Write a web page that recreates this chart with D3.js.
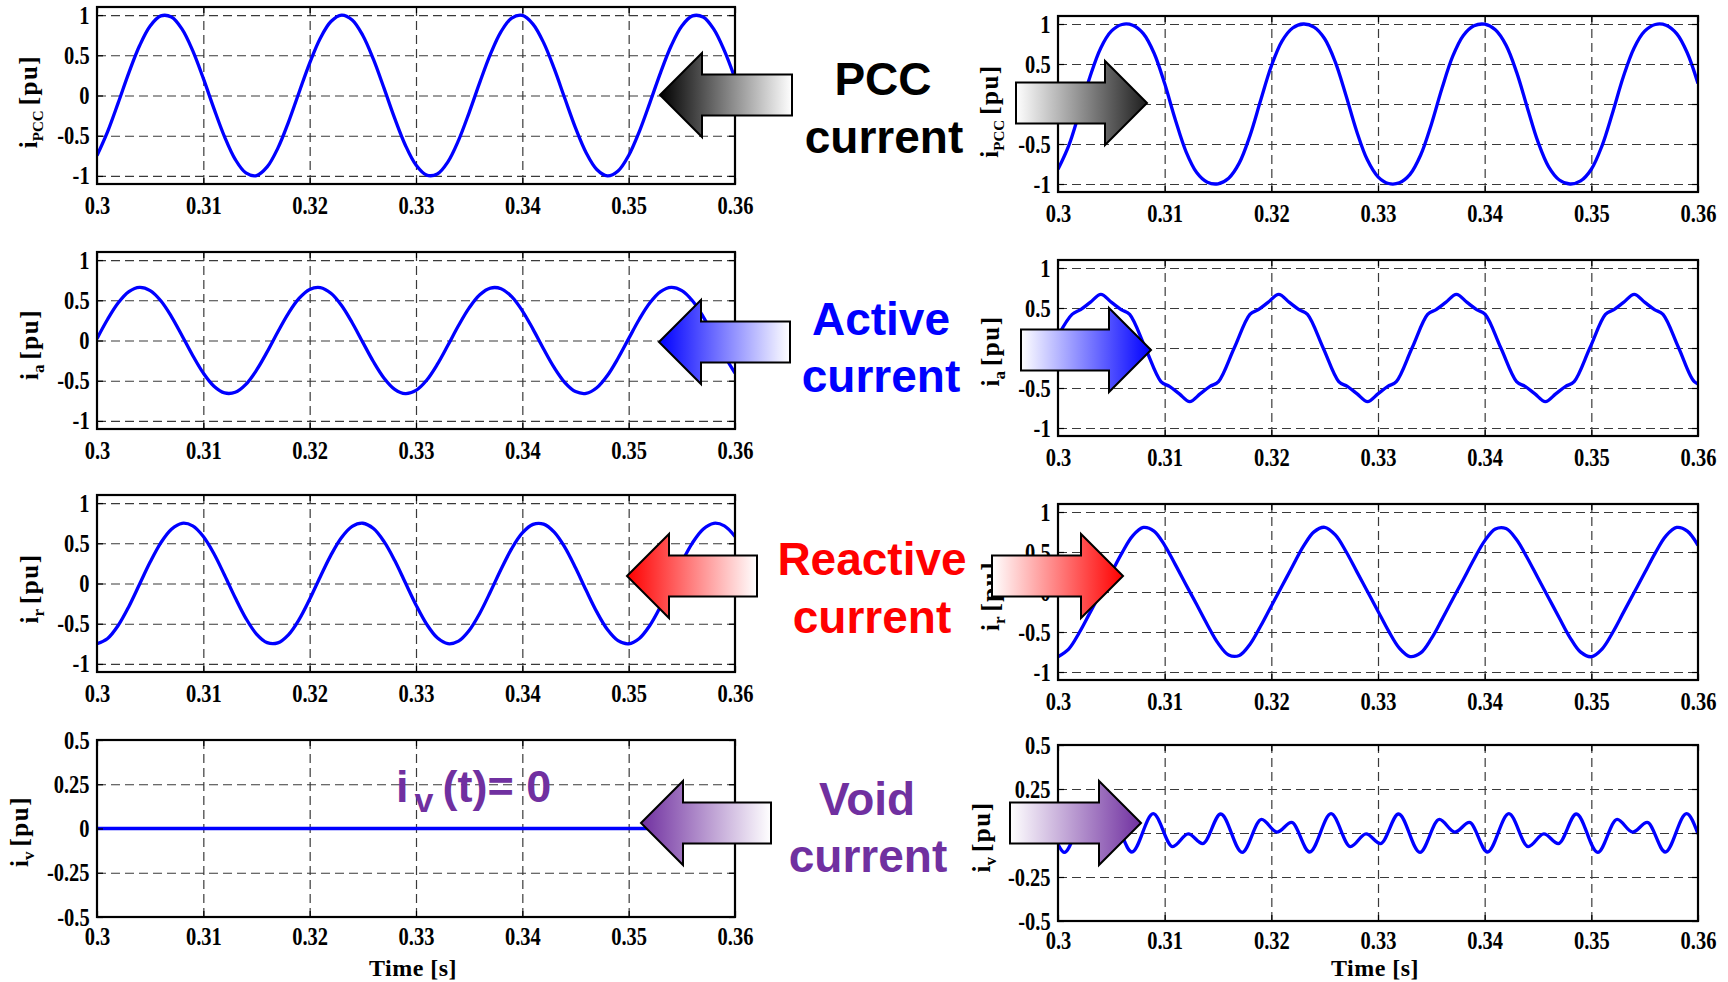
<!DOCTYPE html>
<html>
<head>
<meta charset="utf-8">
<script src="https://cdn.jsdelivr.net/npm/d3@7"></script>
<style>
  body { margin: 0; background: #fff; }
  svg { display: block; }
</style>
</head>
<body>
<svg id="fig" width="1728" height="982"></svg>
<script>
// ---- tick values / labels ----
const xTickValues = [0.30, 0.31, 0.32, 0.33, 0.34, 0.35, 0.36];
const xTickLabels = ["0.3", "0.31", "0.32", "0.33", "0.34", "0.35", "0.36"];
const yTicksPu = [-1, -0.5, 0, 0.5, 1];
const yLabelsPu = ["-1", "-0.5", "0", "0.5", "1"];
const yTicksVoid = [-0.5, -0.25, 0, 0.25, 0.5];
const yLabelsVoid = ["-0.5", "-0.25", "0", "0.25", "0.5"];

// ---- sampled waveforms, 1 ms steps from 0.300 to 0.360 s ----
const tSample = [0.300,0.301,0.302,0.303,0.304,0.305,0.306,0.307,0.308,0.309,0.310,0.311,0.312,0.313,0.314,0.315,0.316,0.317,0.318,0.319,0.320,
  0.321,0.322,0.323,0.324,0.325,0.326,0.327,0.328,0.329,0.330,0.331,0.332,0.333,0.334,0.335,0.336,0.337,0.338,0.339,0.340,
  0.341,0.342,0.343,0.344,0.345,0.346,0.347,0.348,0.349,0.350,0.351,0.352,0.353,0.354,0.355,0.356,0.357,0.358,0.359,0.360];

// left column (ideal decomposition)
const ipccLeft = [-0.746,-0.448,-0.088,0.285,0.618,0.864,0.989,0.975,0.824,0.557,0.212,-0.163,-0.514,-0.794,-0.962,-0.995,-0.888,-0.657,-0.333,0.038,0.403,0.712,0.920,1.000,0.939,
  0.746,0.448,0.088,-0.285,-0.618,-0.864,-0.989,-0.975,-0.824,-0.557,-0.212,0.163,0.514,0.794,0.962,0.995,0.888,0.657,0.333,-0.038,-0.403,-0.712,-0.920,-1.000,-0.939,
  -0.746,-0.448,-0.088,0.285,0.618,0.864,0.989,0.975,0.824,0.557,0.212];
const iaLeft = [0.023,0.264,0.468,0.607,0.660,0.620,0.494,0.298,0.060,-0.186,-0.406,-0.569,-0.652,-0.644,-0.545,-0.369,-0.142,0.106,0.338,0.523,0.635,0.657,0.587,0.435,0.221,
  -0.023,-0.264,-0.468,-0.607,-0.660,-0.620,-0.494,-0.298,-0.060,0.186,0.406,0.569,0.652,0.644,0.545,0.369,0.142,-0.106,-0.338,-0.523,-0.635,-0.657,-0.587,-0.435,-0.221,
  0.023,0.264,0.468,0.607,0.660,0.620,0.494,0.298,0.060,-0.186,-0.406];
const irLeft = [-0.749,-0.683,-0.520,-0.285,-0.009,0.267,0.506,0.675,0.748,0.716,0.584,0.370,0.103,-0.177,-0.433,-0.628,-0.735,-0.738,-0.638,-0.449,-0.196,0.085,0.353,0.572,0.710,
  0.749,0.683,0.520,0.285,0.009,-0.267,-0.506,-0.675,-0.748,-0.716,-0.584,-0.370,-0.103,0.177,0.433,0.628,0.735,0.738,0.638,0.449,0.196,-0.085,-0.353,-0.572,-0.710,
  -0.749,-0.683,-0.520,-0.285,-0.009,0.267,0.506,0.675,0.748,0.716,0.584];
const tVoidLeft = [0.300, 0.360];
const ivLeft = [0, 0];

// right column (distorted case)
const ipccRight = [-0.816,-0.523,-0.106,0.340,0.698,0.910,0.994,0.985,0.880,0.638,0.255,-0.196,-0.594,-0.856,-0.977,-0.997,-0.927,-0.736,-0.395,0.046,0.474,0.786,0.950,1.000,0.962,
  0.816,0.523,0.106,-0.340,-0.698,-0.910,-0.994,-0.985,-0.880,-0.638,-0.255,0.196,0.594,0.856,0.977,0.997,0.927,0.736,0.395,-0.046,-0.474,-0.786,-0.950,-1.000,-0.962,
  -0.816,-0.523,-0.106,0.340,0.698,0.910,0.994,0.985,0.880,0.638,0.255];
const irRight = [-0.809,-0.713,-0.506,-0.258,-0.009,0.240,0.490,0.702,0.807,0.761,0.583,0.342,0.091,-0.157,-0.409,-0.639,-0.788,-0.793,-0.653,-0.425,-0.174,0.074,0.325,0.569,0.752,
  0.809,0.713,0.506,0.258,0.009,-0.240,-0.490,-0.702,-0.807,-0.761,-0.583,-0.342,-0.091,0.157,0.409,0.639,0.788,0.793,0.653,0.425,0.174,-0.074,-0.325,-0.569,-0.752,
  -0.809,-0.713,-0.506,-0.258,-0.009,0.240,0.490,0.702,0.807,0.761,0.583];

// right active current, read at its turning points
const tActiveRight = [0.30000,0.30132,0.30212,0.30302,0.30402,0.30502,0.30592,0.30672,0.30819,0.30965,0.31045,0.31135,0.31235,0.31335,0.31425,0.31505,
  0.31652,0.31799,0.31879,0.31969,0.32069,0.32169,0.32259,0.32339,0.32486,0.32632,0.32712,0.32802,0.32902,0.33002,0.33092,0.33172,
  0.33319,0.33465,0.33545,0.33635,0.33735,0.33835,0.33925,0.34005,0.34152,0.34299,0.34379,0.34469,0.34569,0.34669,0.34759,0.34839,
  0.34986,0.35132,0.35212,0.35302,0.35402,0.35502,0.35592,0.35672,0.35819,0.35965,0.36000];
const iaRight = [0.15,0.42,0.48,0.57,0.67,0.57,0.48,0.42,0,-0.42,-0.48,-0.57,-0.67,-0.57,-0.48,-0.42,
  0,0.42,0.48,0.57,0.67,0.57,0.48,0.42,0,-0.42,-0.48,-0.57,-0.67,-0.57,-0.48,-0.42,
  0,0.42,0.48,0.57,0.67,0.57,0.48,0.42,0,-0.42,-0.48,-0.57,-0.67,-0.57,-0.48,-0.42,
  0,0.42,0.48,0.57,0.67,0.57,0.48,0.42,0,-0.42,-0.45];

// right void current, read at its turning points
const tVoidRight = [0.30000,0.30059,0.30241,0.30387,0.30522,0.30692,0.30893,0.31075,0.31221,0.31356,0.31526,0.31726,0.31908,0.32054,0.32189,0.32359,
  0.32560,0.32742,0.32888,0.33023,0.33193,0.33393,0.33575,0.33721,0.33856,0.34026,0.34227,0.34409,0.34555,0.34690,0.34860,0.35060,
  0.35242,0.35388,0.35523,0.35693,0.35893,0.36000];
const ivRight = [-0.064,-0.11,0.077,0.005,0.06,-0.108,0.11,-0.077,-0.005,-0.06,0.108,-0.11,0.077,0.005,0.06,-0.108,
  0.11,-0.077,-0.005,-0.06,0.108,-0.11,0.077,0.005,0.06,-0.108,0.11,-0.077,-0.005,-0.06,0.108,-0.11,
  0.077,0.005,0.06,-0.108,0.11,-0.005];

const ySubscripts = ["PCC", "a", "r", "v"];

// ---- layout ----
const colLeft = [97, 1058];
const colWidth = [638, 640];
const rowTop = [[7, 252, 495, 740], [16, 260, 504, 745]];
const rowHeight = [177, 176];
const yLabelX = [[37, 38, 38, 28], [998, 999, 999, 990]];
const yLabelShift = [[6, 4, 5, 3], [7, 3, 4, 4]];

const serif = "'Liberation Serif', 'Times New Roman', serif";
const sans = "'Liberation Sans', Arial, sans-serif";

const svg = d3.select("#fig");
const defs = svg.append("defs");

const panels = [
  { col: 0, row: 0, t: tSample, v: ipccLeft, curve: d3.curveCatmullRom },
  { col: 0, row: 1, t: tSample, v: iaLeft, curve: d3.curveCatmullRom },
  { col: 0, row: 2, t: tSample, v: irLeft, curve: d3.curveCatmullRom },
  { col: 0, row: 3, t: tVoidLeft, v: ivLeft, curve: d3.curveLinear },
  { col: 1, row: 0, t: tSample, v: ipccRight, curve: d3.curveCatmullRom },
  { col: 1, row: 1, t: tActiveRight, v: iaRight, curve: d3.curveMonotoneX },
  { col: 1, row: 2, t: tSample, v: irRight, curve: d3.curveCatmullRom },
  { col: 1, row: 3, t: tVoidRight, v: ivRight, curve: d3.curveMonotoneX }
];

panels.forEach((p, i) => {
  const left = colLeft[p.col], width = colWidth[p.col];
  const top = rowTop[p.col][p.row], height = rowHeight[p.col];
  const isVoid = p.row === 3;
  const yDomain = isVoid ? [-0.5, 0.5] : [-1.1, 1.1];
  const yTicks = isVoid ? yTicksVoid : yTicksPu;
  const yLabels = isVoid ? yLabelsVoid : yLabelsPu;

  const x = d3.scaleLinear().domain([0.3, 0.36]).range([left, left + width]);
  const y = d3.scaleLinear().domain(yDomain).range([top + height, top]);
  const g = svg.append("g");

  // dashed grid
  const gx = g.append("g").attr("transform", `translate(0,${top + height})`)
    .call(d3.axisBottom(x).tickValues(xTickValues.slice(1, -1)).tickSize(-height).tickFormat(""));
  const gy = g.append("g").attr("transform", `translate(${left},0)`)
    .call(d3.axisLeft(y).tickValues(yTicks.filter(v => v > yDomain[0] && v < yDomain[1])).tickSize(-width).tickFormat(""));
  [gx, gy].forEach(s => {
    s.select(".domain").remove();
    s.selectAll("line").attr("stroke", "#3a3a3a").attr("stroke-width", 1.2).attr("stroke-dasharray", "9,5");
  });

  // waveform
  defs.append("clipPath").attr("id", "clip" + i)
    .append("rect").attr("x", left).attr("y", top).attr("width", width).attr("height", height);
  g.append("path")
    .datum(d3.zip(p.t, p.v))
    .attr("clip-path", `url(#clip${i})`)
    .attr("fill", "none")
    .attr("stroke", "#0000ff")
    .attr("stroke-width", 3.3)
    .attr("stroke-linejoin", "round")
    .attr("d", d3.line().x(d => x(d[0])).y(d => y(d[1])).curve(p.curve));

  // box
  g.append("rect")
    .attr("x", left).attr("y", top).attr("width", width).attr("height", height)
    .attr("fill", "none").attr("stroke", "#000").attr("stroke-width", 2.2);

  // axes with inward ticks
  const ab = g.append("g").attr("transform", `translate(0,${top + height})`)
    .call(d3.axisBottom(x).tickValues(xTickValues).tickFormat((d, k) => xTickLabels[k])
      .tickSizeInner(-6).tickSizeOuter(0).tickPadding(isVoid ? 10 : 12));
  const al = g.append("g").attr("transform", `translate(${left},0)`)
    .call(d3.axisLeft(y).tickValues(yTicks).tickFormat((d, k) => yLabels[k])
      .tickSizeInner(-6).tickSizeOuter(0).tickPadding(9));
  const at = g.append("g").attr("transform", `translate(0,${top})`)
    .call(d3.axisTop(x).tickValues(xTickValues).tickFormat("").tickSizeInner(-6).tickSizeOuter(0));
  const ar = g.append("g").attr("transform", `translate(${left + width},0)`)
    .call(d3.axisRight(y).tickValues(yTicks).tickFormat("").tickSizeInner(-6).tickSizeOuter(0));
  [ab, al, at, ar].forEach(s => {
    s.select(".domain").remove();
    s.selectAll(".tick line").attr("stroke", "#000").attr("stroke-width", 1.2);
    s.selectAll(".tick text")
      .attr("fill", "#000")
      .attr("transform", "scale(0.82,1)")
      .style("font-family", serif).style("font-weight", "bold").style("font-size", "25px");
  });

  // y label
  const yl = svg.append("text")
    .attr("transform", `translate(${yLabelX[p.col][p.row]},${top + height / 2 + yLabelShift[p.col][p.row]}) rotate(-90)`)
    .attr("text-anchor", "middle")
    .style("font-family", serif).style("font-weight", "bold").style("font-size", "25px");
  yl.append("tspan").text("i");
  yl.append("tspan").attr("dy", 6).style("font-size", p.row === 0 ? "15px" : "17px").text(ySubscripts[p.row]);
  yl.append("tspan").attr("dy", -6).attr("dx", 5).attr("letter-spacing", 1.5).text("[pu]");

  if (isVoid) {
    svg.append("text")
      .attr("x", left + width / 2 - 3).attr("y", 976)
      .attr("text-anchor", "middle")
      .style("font-family", serif).style("font-weight", "bold").style("font-size", "24px")
      .attr("letter-spacing", 0.5)
      .text("Time [s]");
  }
});

// ---- centre annotations ----
const notes = [
  { lines: ["PCC", "current"], x: [883, 884], y: [95, 153], color: "#000000" },
  { lines: ["Active", "current"], x: [881, 881], y: [335, 392], color: "#0000ff" },
  { lines: ["Reactive", "current"], x: [872, 872], y: [575, 633], color: "#ff0000" },
  { lines: ["Void", "current"], x: [867, 868], y: [815, 872], color: "#7030a0" }
];
notes.forEach(n => {
  n.lines.forEach((s, k) => {
    svg.append("text")
      .attr("x", n.x[k]).attr("y", n.y[k])
      .attr("text-anchor", "middle")
      .attr("fill", n.color)
      .style("font-family", sans).style("font-weight", "bold").style("font-size", "46px")
      .text(s);
  });
});

// i_v(t) = 0 inside the ideal void panel
const iv0 = svg.append("text")
  .attr("x", 396).attr("y", 802)
  .attr("fill", "#7030a0")
  .style("font-family", sans).style("font-weight", "bold").style("font-size", "45px");
iv0.append("tspan").text("i");
iv0.append("tspan").attr("dx", 6).attr("dy", 10).style("font-size", "34px").text("v");
iv0.append("tspan").attr("dx", 9).attr("dy", -10).text("(t)= 0");

// ---- block arrows ----
const arrows = [
  { tipX: 660, tailX: 792, y: 95, dir: -1, color: "#000000" },
  { tipX: 659, tailX: 790, y: 342, dir: -1, color: "#0000ff" },
  { tipX: 627, tailX: 757, y: 576, dir: -1, color: "#ff0000" },
  { tipX: 641, tailX: 771, y: 823, dir: -1, color: "#7030a0" },
  { tipX: 1147, tailX: 1016, y: 103, dir: 1, color: "#1e1e1e" },
  { tipX: 1151, tailX: 1021, y: 350, dir: 1, color: "#0000ff" },
  { tipX: 1123, tailX: 992, y: 576, dir: 1, color: "#ff0000" },
  { tipX: 1141, tailX: 1010, y: 823, dir: 1, color: "#7030a0" }
];
const headLen = 42, headHalf = 42, shaftHalf = 20.5;
arrows.forEach((a, i) => {
  const grad = defs.append("linearGradient").attr("id", "ag" + i)
    .attr("x1", a.dir < 0 ? 0 : 1).attr("x2", a.dir < 0 ? 1 : 0).attr("y1", 0).attr("y2", 0);
  grad.append("stop").attr("offset", 0).attr("stop-color", a.color);
  grad.append("stop").attr("offset", 1).attr("stop-color", "#ffffff");
  const baseX = a.tipX - a.dir * headLen;
  const pts = [
    [a.tipX, a.y],
    [baseX, a.y - headHalf],
    [baseX, a.y - shaftHalf],
    [a.tailX, a.y - shaftHalf],
    [a.tailX, a.y + shaftHalf],
    [baseX, a.y + shaftHalf],
    [baseX, a.y + headHalf]
  ];
  svg.append("polygon")
    .attr("points", pts.map(q => q.join(",")).join(" "))
    .attr("fill", `url(#ag${i})`)
    .attr("stroke", "#000")
    .attr("stroke-width", 2)
    .attr("stroke-linejoin", "miter");
});
</script>
</body>
</html>
